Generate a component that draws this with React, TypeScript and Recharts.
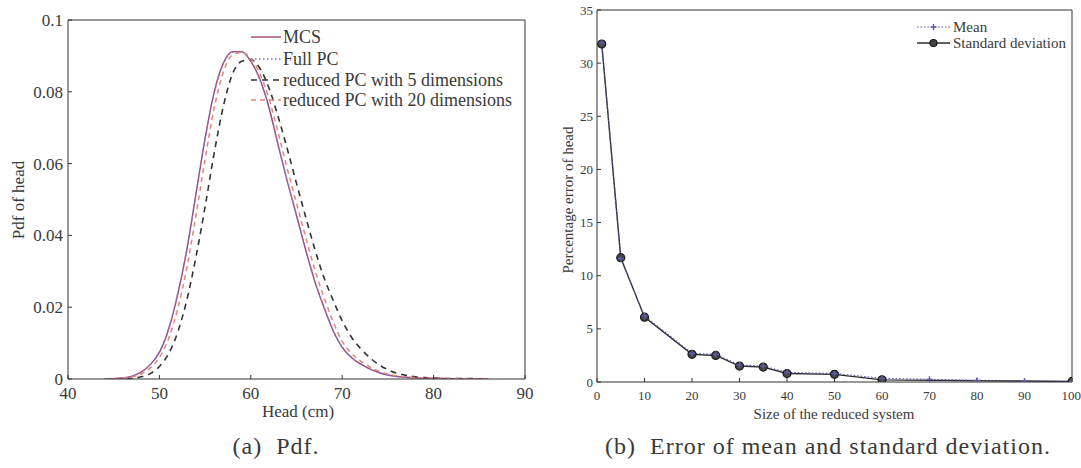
import React from 'react';
import { LineChart, Line, XAxis, YAxis } from 'recharts';

// (a) pdf of head
const HEAD_X = [44, 45, 46, 47, 48, 49, 50, 51, 52, 53, 54, 55, 56, 57, 58, 59, 60, 61, 62, 63, 64, 65, 66, 67, 68, 69, 70, 71, 72, 73, 74, 75, 76, 77, 78, 79, 80, 82, 84, 86];
const MCS = [0, 0.0001, 0.0003, 0.0008, 0.0019, 0.004, 0.0074, 0.0138, 0.0235, 0.036, 0.0515, 0.067, 0.08, 0.088, 0.0912, 0.0912, 0.0885, 0.0835, 0.0755, 0.065, 0.055, 0.0455, 0.036, 0.0272, 0.02, 0.0135, 0.0088, 0.006, 0.0042, 0.0028, 0.0018, 0.0011, 0.0007, 0.0005, 0.0003, 0.0002, 0.0002, 0.0001, 0.0001, 0];
const FULL_PC = [0, 0.0001, 0.0003, 0.0008, 0.0019, 0.0041, 0.0076, 0.014, 0.0238, 0.0362, 0.0516, 0.067, 0.0798, 0.0878, 0.091, 0.0911, 0.0884, 0.0834, 0.0755, 0.0652, 0.0552, 0.0457, 0.0362, 0.0274, 0.0201, 0.0136, 0.0089, 0.0061, 0.0043, 0.0028, 0.0018, 0.0011, 0.0007, 0.0005, 0.0003, 0.0002, 0.0002, 0.0001, 0.0001, 0];
const REDUCED_5 = [0, 0, 0.0001, 0.0002, 0.0006, 0.0015, 0.0035, 0.007, 0.013, 0.022, 0.034, 0.048, 0.063, 0.076, 0.085, 0.0885, 0.089, 0.0865, 0.081, 0.073, 0.064, 0.0545, 0.0452, 0.0362, 0.0283, 0.022, 0.0162, 0.0117, 0.0085, 0.006, 0.004, 0.0026, 0.0016, 0.001, 0.0006, 0.0004, 0.0003, 0.0001, 0.0001, 0];
const REDUCED_20 = [0, 0.0001, 0.0002, 0.0006, 0.0014, 0.0031, 0.006, 0.0112, 0.0195, 0.031, 0.0455, 0.0612, 0.0755, 0.0855, 0.0903, 0.091, 0.0893, 0.085, 0.078, 0.0685, 0.0585, 0.049, 0.0395, 0.0305, 0.0228, 0.016, 0.0105, 0.0072, 0.005, 0.0034, 0.0022, 0.0014, 0.0009, 0.0006, 0.0004, 0.0003, 0.0002, 0.0001, 0.0001, 0];
const PDF_X_TICKS = [40, 50, 60, 70, 80, 90];
const PDF_Y_TICKS = [0, 0.02, 0.04, 0.06, 0.08, 0.1];

// (b) percentage error vs size of reduced system
const SIZES = [1, 5, 10, 20, 25, 30, 35, 40, 50, 60, 70, 80, 90, 100];
const MEAN_ERR = [31.9, 11.6, 6.2, 2.7, 2.6, 1.6, 1.5, 0.9, 0.8, 0.35, 0.25, 0.15, 0.1, 0.05];
const STD_ERR = [31.8, 11.7, 6.1, 2.6, 2.5, 1.5, 1.4, 0.8, 0.72, 0.2, null, null, null, 0.05];
const ERR_X_TICKS = [0, 10, 20, 30, 40, 50, 60, 70, 80, 90, 100];
const ERR_Y_TICKS = [0, 5, 10, 15, 20, 25, 30, 35];

const pdfData = HEAD_X.map((x, i) => ({ x, mcs: MCS[i], full: FULL_PC[i], r5: REDUCED_5[i], r20: REDUCED_20[i] }));
const errData = SIZES.map((x, i) => ({ x, mean: MEAN_ERR[i], std: STD_ERR[i] }));

const SERIF = '"Liberation Serif", "Times New Roman", serif';
const AXIS = '#333';
const TXT = '#3a3a3a';

const C_MCS = '#a2456f';
const C_FULL = '#7a78d2';
const C_R5 = '#333';
const C_R20 = '#e5857a';
const C_MEAN = '#5a5aa8';

function PlusDot(props: any) {
  const { cx, cy } = props;
  if (cx == null || cy == null) return null;
  return <path d={`M${cx - 3},${cy}H${cx + 3}M${cx},${cy - 3}V${cy + 3}`} stroke={C_MEAN} strokeWidth={1.4} fill="none" />;
}

function Abs({ x, y, size, rotate, spacing, children }: any) {
  return (
    <div
      style={{
        position: 'absolute',
        left: x,
        top: y,
        transform: `translate(-50%, -50%)${rotate ? ' rotate(-90deg)' : ''}`,
        fontFamily: SERIF,
        fontSize: size,
        color: TXT,
        whiteSpace: 'nowrap',
        letterSpacing: spacing || 0,
        lineHeight: 1,
      }}
    >
      {children}
    </div>
  );
}

const pdfLegend = [
  { name: 'MCS', color: C_MCS, dash: undefined, y: 37 },
  { name: 'Full PC', color: C_FULL, dash: '1.5 2.5', y: 59 },
  { name: 'reduced PC with 5 dimensions', color: C_R5, dash: '6 5', y: 80 },
  { name: 'reduced PC with 20 dimensions', color: C_R20, dash: '5 4', y: 100 },
];

export default function App() {
  const tickL = { fontFamily: SERIF, fontSize: 17, fill: TXT };
  const tickR = { fontFamily: SERIF, fontSize: 13, fill: TXT };
  return (
    <div style={{ position: 'absolute', left: 0, top: 0, width: 1081, height: 468, background: '#fff', overflow: 'hidden' }}>
      {/* (a) Pdf */}
      <div style={{ position: 'absolute', left: 0, top: 0 }}>
        <LineChart width={540} height={420} data={pdfData} margin={{ top: 19, right: 14, bottom: 40, left: 67 }}>
          <XAxis dataKey="x" type="number" domain={[40, 90]} ticks={PDF_X_TICKS} allowDataOverflow
            tickSize={-4} tickMargin={12} height={1} tick={tickL} stroke={AXIS} />
          <XAxis xAxisId="top" dataKey="x" orientation="top" type="number" domain={[40, 90]} ticks={PDF_X_TICKS} allowDataOverflow
            tickSize={-4} height={1} tick={false} stroke={AXIS} />
          <YAxis type="number" domain={[0, 0.1]} ticks={PDF_Y_TICKS} allowDataOverflow
            tickSize={-4} tickMargin={9} width={1} tick={tickL} stroke={AXIS} />
          <YAxis yAxisId="right" orientation="right" type="number" domain={[0, 0.1]} ticks={PDF_Y_TICKS} allowDataOverflow
            tickSize={-4} width={1} tick={false} stroke={AXIS} />
          <Line dataKey="r5" type="monotone" stroke={C_R5} strokeWidth={1.6} strokeDasharray="6 5" dot={false} isAnimationActive={false} />
          <Line dataKey="mcs" type="monotone" stroke={C_MCS} strokeWidth={1.4} dot={false} isAnimationActive={false} />
          <Line dataKey="full" type="monotone" stroke={C_FULL} strokeWidth={1.4} strokeDasharray="1.5 2.5" dot={false} isAnimationActive={false} />
          <Line dataKey="r20" type="monotone" stroke={C_R20} strokeWidth={1.5} strokeDasharray="5 4" dot={false} isAnimationActive={false} />
        </LineChart>
      </div>
      <svg style={{ position: 'absolute', left: 0, top: 0 }} width={540} height={120}>
        {pdfLegend.map((l) => (
          <line key={l.name} x1={251} x2={281} y1={l.y} y2={l.y} stroke={l.color} strokeWidth={1.4} strokeDasharray={l.dash} />
        ))}
      </svg>
      {pdfLegend.map((l) => (
        <div key={l.name} style={{ position: 'absolute', left: 283, top: l.y, transform: 'translateY(-50%)', fontFamily: SERIF, fontSize: 18, color: TXT, whiteSpace: 'nowrap', lineHeight: 1 }}>
          {l.name}
        </div>
      ))}
      <Abs x={18} y={200} size={17} rotate>Pdf of head</Abs>
      <Abs x={298} y={411} size={17}>Head (cm)</Abs>
      <Abs x={276} y={446} size={24} spacing={1}>(a)&nbsp; Pdf.</Abs>

      {/* (b) Error */}
      <div style={{ position: 'absolute', left: 540, top: 0 }}>
        <LineChart width={541} height={420} data={errData} margin={{ top: 9, right: 8, bottom: 37, left: 56 }}>
          <XAxis dataKey="x" type="number" domain={[0, 100]} ticks={ERR_X_TICKS} allowDataOverflow
            tickSize={-4} tickMargin={13} height={1} tick={tickR} stroke={AXIS} />
          <XAxis xAxisId="top" dataKey="x" orientation="top" type="number" domain={[0, 100]} ticks={ERR_X_TICKS} allowDataOverflow
            tickSize={-4} height={1} tick={false} stroke={AXIS} />
          <YAxis type="number" domain={[0, 35]} ticks={ERR_Y_TICKS} allowDataOverflow
            tickSize={-4} tickMargin={8} width={1} tick={tickR} stroke={AXIS} />
          <YAxis yAxisId="right" orientation="right" type="number" domain={[0, 35]} ticks={ERR_Y_TICKS} allowDataOverflow
            tickSize={-4} width={1} tick={false} stroke={AXIS} />
          <Line dataKey="std" type="linear" stroke="#2a2a2a" strokeWidth={1.4} connectNulls
            dot={{ r: 4, fill: '#444', stroke: '#1a1a1a', strokeWidth: 1.2 }} isAnimationActive={false} />
          <Line dataKey="mean" type="linear" stroke={C_MEAN} strokeWidth={1.2} strokeDasharray="1.5 2"
            dot={<PlusDot />} isAnimationActive={false} />
        </LineChart>
      </div>
      <svg style={{ position: 'absolute', left: 900, top: 0 }} width={60} height={60}>
        <line x1={17} x2={50} y1={27} y2={27} stroke={C_MEAN} strokeWidth={1.2} strokeDasharray="1.5 2" />
        <path d="M30.5,27H36.5M33.5,24V30" stroke={C_MEAN} strokeWidth={1.4} />
        <line x1={17} x2={50} y1={43} y2={43} stroke="#2a2a2a" strokeWidth={1.4} />
        <circle cx={33.5} cy={43} r={3.5} fill="#444" stroke="#1a1a1a" strokeWidth={1.2} />
      </svg>
      <div style={{ position: 'absolute', left: 953, top: 27, transform: 'translateY(-50%)', fontFamily: SERIF, fontSize: 15, color: TXT, lineHeight: 1, whiteSpace: 'nowrap' }}>Mean</div>
      <div style={{ position: 'absolute', left: 953, top: 43, transform: 'translateY(-50%)', fontFamily: SERIF, fontSize: 15, color: TXT, lineHeight: 1, whiteSpace: 'nowrap' }}>Standard deviation</div>
      <Abs x={568} y={200} size={15} rotate>Percentage error of head</Abs>
      <Abs x={834} y={414} size={15}>Size of the reduced system</Abs>
      <Abs x={828} y={446} size={24} spacing={1}>(b)&nbsp; Error of mean and standard deviation.</Abs>
    </div>
  );
}
